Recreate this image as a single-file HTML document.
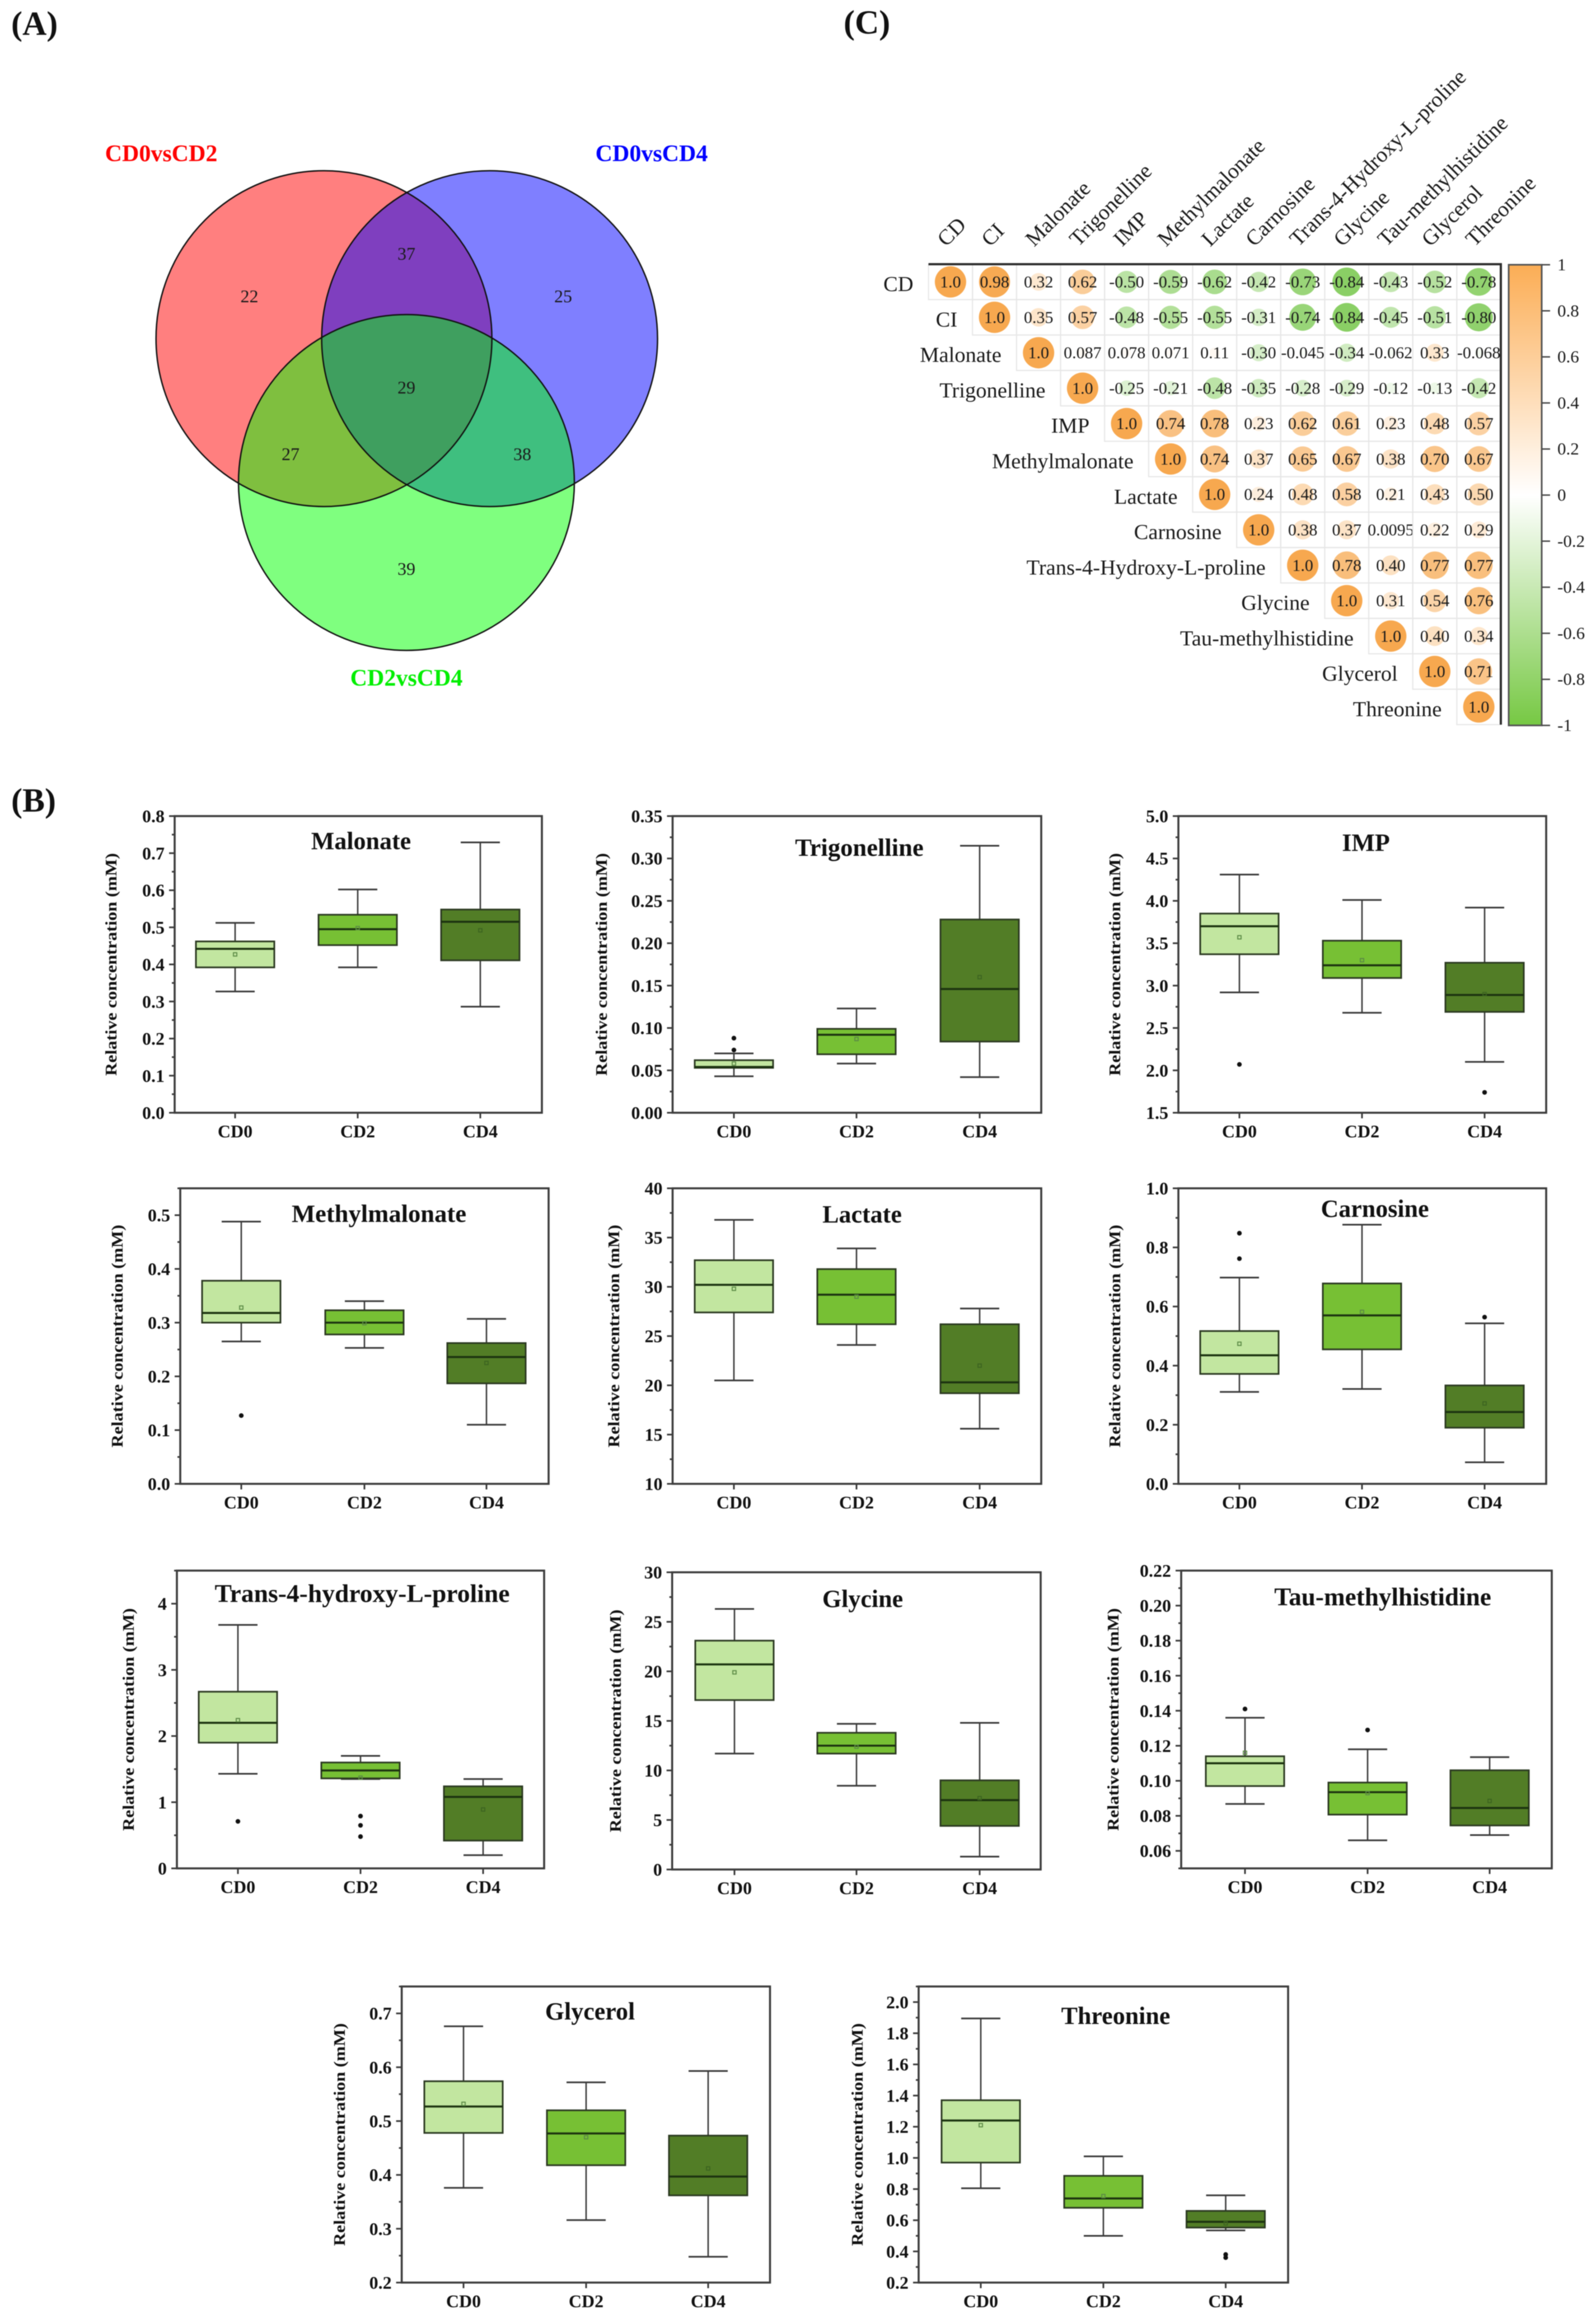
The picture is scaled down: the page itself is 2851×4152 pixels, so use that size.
<!DOCTYPE html>
<html lang="en">
<head>
<meta charset="utf-8">
<title>Metabolite Venn diagram, box plots and correlation matrix</title>
<style>
html,body{margin:0;padding:0;background:#fff;}
#figure{display:block;filter:blur(0.7px);font-family:"Liberation Serif",serif;}
</style>
</head>
<body>
<svg id="figure" xmlns="http://www.w3.org/2000/svg" width="2851" height="4152" viewBox="0 0 2851 4152">
  <rect x="0" y="0" width="2851" height="4152" fill="#fff"/>
  <text x="20" y="62" font-size="60" font-weight="bold" fill="#111">(A)</text>
  <text x="20" y="1450" font-size="60" font-weight="bold" fill="#111">(B)</text>
  <text x="1507" y="60" font-size="60" font-weight="bold" fill="#111">(C)</text>

  <g>
    <circle cx="578.7" cy="605" r="300" fill="#ff0000" fill-opacity="0.5"/>
    <circle cx="874.6" cy="605" r="300" fill="#0000ff" fill-opacity="0.5"/>
    <circle cx="726" cy="862" r="300" fill="#00ff00" fill-opacity="0.5"/>
    <circle cx="578.7" cy="605" r="300" fill="none" stroke="#111" stroke-width="2.5"/>
    <circle cx="874.6" cy="605" r="300" fill="none" stroke="#111" stroke-width="2.5"/>
    <circle cx="726" cy="862" r="300" fill="none" stroke="#111" stroke-width="2.5"/>
    <text x="288" y="288" font-size="42" font-weight="bold" fill="#ff0000" text-anchor="middle">CD0vsCD2</text>
    <text x="1164" y="288" font-size="42" font-weight="bold" fill="#0000ff" text-anchor="middle">CD0vsCD4</text>
    <text x="726" y="1225" font-size="42" font-weight="bold" fill="#00ee00" text-anchor="middle">CD2vsCD4</text>
    <g font-size="32" text-anchor="middle" fill="#1a1a1a">
      <text x="445.5" y="540">22</text>
      <text x="1006" y="540">25</text>
      <text x="726" y="464">37</text>
      <text x="726" y="703">29</text>
      <text x="519" y="822">27</text>
      <text x="933" y="822">38</text>
      <text x="726" y="1027">39</text>
    </g>
  </g>
  <g id="corr-root"></g>
  <g id="box-root"></g>
</svg>

<script>
// ---------- Box plot data (one inner array per metabolite; one value per category) ----------
const categories = ['CD0', 'CD2', 'CD4'];
const metabolites = ['Malonate', 'Trigonelline', 'IMP', 'Methylmalonate', 'Lactate', 'Carnosine', 'Trans-4-hydroxy-L-proline', 'Glycine', 'Tau-methylhistidine', 'Glycerol', 'Threonine'];
const whiskerHigh = [
  [0.512, 0.602, 0.729], [0.070, 0.123, 0.315], [4.31, 4.01, 3.92], [0.488, 0.340, 0.307],
  [36.8, 33.9, 27.8], [0.698, 0.877, 0.543], [3.68, 1.70, 1.35], [26.3, 14.7, 14.8],
  [0.136, 0.118, 0.1135], [0.676, 0.572, 0.593], [1.895, 1.01, 0.76]
];
const quartile3 = [
  [0.462, 0.534, 0.548], [0.062, 0.099, 0.228], [3.85, 3.53, 3.27], [0.378, 0.323, 0.262],
  [32.7, 31.8, 26.2], [0.517, 0.678, 0.333], [2.67, 1.60, 1.24], [23.1, 13.8, 9.0],
  [0.114, 0.099, 0.106], [0.574, 0.520, 0.473], [1.37, 0.885, 0.66]
];
const medians = [
  [0.442, 0.495, 0.515], [0.054, 0.092, 0.146], [3.70, 3.24, 2.89], [0.318, 0.300, 0.236],
  [30.2, 29.2, 20.3], [0.435, 0.570, 0.243], [2.20, 1.48, 1.08], [20.7, 12.5, 7.0],
  [0.110, 0.0935, 0.0845], [0.527, 0.477, 0.397], [1.24, 0.74, 0.59]
];
const quartile1 = [
  [0.392, 0.452, 0.411], [0.053, 0.069, 0.084], [3.37, 3.09, 2.69], [0.300, 0.278, 0.187],
  [27.4, 26.2, 19.2], [0.372, 0.455, 0.190], [1.90, 1.36, 0.42], [17.1, 11.7, 4.4],
  [0.097, 0.0807, 0.0745], [0.478, 0.418, 0.362], [0.97, 0.68, 0.553]
];
const whiskerLow = [
  [0.327, 0.392, 0.286], [0.043, 0.058, 0.042], [2.92, 2.68, 2.10], [0.265, 0.253, 0.110],
  [20.5, 24.1, 15.6], [0.311, 0.321, 0.073], [1.43, 1.35, 0.20], [11.7, 8.45, 1.3],
  [0.0868, 0.066, 0.069], [0.376, 0.316, 0.248], [0.805, 0.50, 0.535]
];
const means = [
  [0.427, 0.498, 0.492], [0.058, 0.087, 0.160], [3.57, 3.30, 2.90], [0.328, 0.299, 0.225],
  [29.8, 29.0, 22.0], [0.474, 0.582, 0.272], [2.24, 1.37, 0.89], [19.9, 12.4, 7.2],
  [0.116, 0.093, 0.0885], [0.532, 0.470, 0.412], [1.21, 0.755, 0.58]
];
const outliers = [
  [[], [], []], [[0.088, 0.074], [], []], [[2.07], [], [1.74]], [[0.127], [], []],
  [[], [], []], [[0.848, 0.762], [], [0.564]], [[0.71], [0.79, 0.65, 0.48], []], [[], [], []],
  [[0.141], [0.129], []], [[], [], []], [[], [], [0.38, 0.36]]
];
const axisMin = [0, 0, 1.5, 0, 10, 0, 0, 0, 0.05, 0.2, 0.2];
const axisMax = [0.8, 0.35, 5.0, 0.55, 40, 1.0, 4.5, 30, 0.22, 0.75, 2.1];
const yTickLabels = [
  ['0.0', '0.1', '0.2', '0.3', '0.4', '0.5', '0.6', '0.7', '0.8'],
  ['0.00', '0.05', '0.10', '0.15', '0.20', '0.25', '0.30', '0.35'],
  ['1.5', '2.0', '2.5', '3.0', '3.5', '4.0', '4.5', '5.0'],
  ['0.0', '0.1', '0.2', '0.3', '0.4', '0.5'],
  ['10', '15', '20', '25', '30', '35', '40'],
  ['0.0', '0.2', '0.4', '0.6', '0.8', '1.0'],
  ['0', '1', '2', '3', '4'],
  ['0', '5', '10', '15', '20', '25', '30'],
  ['0.06', '0.08', '0.10', '0.12', '0.14', '0.16', '0.18', '0.20', '0.22'],
  ['0.2', '0.3', '0.4', '0.5', '0.6', '0.7'],
  ['0.2', '0.4', '0.6', '0.8', '1.0', '1.2', '1.4', '1.6', '1.8', '2.0']
];

// ---------- Correlation data (upper triangle rows, as printed) ----------
const corrVariables = ['CD', 'CI', 'Malonate', 'Trigonelline', 'IMP', 'Methylmalonate', 'Lactate', 'Carnosine', 'Trans-4-Hydroxy-L-proline', 'Glycine', 'Tau-methylhistidine', 'Glycerol', 'Threonine'];
const corrRows = [
  ['1.0', '0.98', '0.32', '0.62', '-0.50', '-0.59', '-0.62', '-0.42', '-0.73', '-0.84', '-0.43', '-0.52', '-0.78'],
  ['1.0', '0.35', '0.57', '-0.48', '-0.55', '-0.55', '-0.31', '-0.74', '-0.84', '-0.45', '-0.51', '-0.80'],
  ['1.0', '0.087', '0.078', '0.071', '0.11', '-0.30', '-0.045', '-0.34', '-0.062', '0.33', '-0.068'],
  ['1.0', '-0.25', '-0.21', '-0.48', '-0.35', '-0.28', '-0.29', '-0.12', '-0.13', '-0.42'],
  ['1.0', '0.74', '0.78', '0.23', '0.62', '0.61', '0.23', '0.48', '0.57'],
  ['1.0', '0.74', '0.37', '0.65', '0.67', '0.38', '0.70', '0.67'],
  ['1.0', '0.24', '0.48', '0.58', '0.21', '0.43', '0.50'],
  ['1.0', '0.38', '0.37', '0.0095', '0.22', '0.29'],
  ['1.0', '0.78', '0.40', '0.77', '0.77'],
  ['1.0', '0.31', '0.54', '0.76'],
  ['1.0', '0.40', '0.34'],
  ['1.0', '0.71'],
  ['1.0']
];
const colorbarTickLabels = ['1', '0.8', '0.6', '0.4', '0.2', '0', '-0.2', '-0.4', '-0.6', '-0.8', '-1'];

// ---------- Layout (separate from data) ----------
const panelLayouts = [
  {l: 312, r: 968, t: 1458, b: 1988, c: [420, 639, 858], ty: 199, tx: 645, tb: 1517, fs: 44},
  {l: 1201.5, r: 1860, t: 1458, b: 1988, c: [1311, 1530, 1750], ty: 1075, tx: 1535, tb: 1529, fs: 44.6},
  {l: 2105, r: 2762, t: 1458, b: 1988, c: [2214, 2433, 2652], ty: 1992, tx: 2440, tb: 1520, fs: 44},
  {l: 322, r: 980, t: 2123, b: 2651, c: [431, 651, 869], ty: 210, tx: 677, tb: 2183, fs: 44.6},
  {l: 1201.5, r: 1860, t: 2123, b: 2651, c: [1311, 1530, 1750], ty: 1097, tx: 1540, tb: 2184, fs: 44},
  {l: 2105, r: 2762, t: 2123, b: 2651, c: [2214, 2433, 2652], ty: 1992, tx: 2456, tb: 2174, fs: 44},
  {l: 316, r: 972, t: 2806, b: 3338, c: [425, 644, 863], ty: 230, tx: 647, tb: 2862, fs: 45.6},
  {l: 1200.7, r: 1859, t: 2809, b: 3340, c: [1312, 1530, 1750], ty: 1100, tx: 1541, tb: 2871, fs: 44},
  {l: 2110, r: 2772, t: 2806, b: 3338, c: [2224, 2443, 2661], ty: 1989, tx: 2470, tb: 2868, fs: 45.2},
  {l: 717.6, r: 1375.5, t: 3549, b: 4078, c: [828, 1047, 1265], ty: 607, tx: 1054, tb: 3608, fs: 44},
  {l: 1641, r: 2301, t: 3549, b: 4078, c: [1752, 1971, 2189.5], ty: 1532, tx: 1993, tb: 3616, fs: 44}
];
const boxFills = ['#c2e6a0', '#77c034', '#527d26'];
const NS = 'http://www.w3.org/2000/svg';

function mk(tag, attrs, parent) {
  const el = document.createElementNS(NS, tag);
  for (const k in attrs) el.setAttribute(k, attrs[k]);
  parent.appendChild(el);
  return el;
}
function slug(s) {
  return s.toLowerCase().replace(/[^a-z0-9]+/g, '-');
}

// ---------- Box plots ----------
function drawBoxPanel(i) {
  const L = panelLayouts[i];
  const name = metabolites[i];
  const key = slug(name);
  const y = v => L.b - (v - axisMin[i]) / (axisMax[i] - axisMin[i]) * (L.b - L.t);
  const g = mk('g', {}, document.getElementById('box-root'));
  
  

  // y ticks
  const labels = yTickLabels[i];
  const step = parseFloat(labels[1]) - parseFloat(labels[0]);
  const first = parseFloat(labels[0]);
  const tickColor = '#3a3a3a';
  for (let n = -4; n < 60; n++) {
    const v = first + n * step / 2;
    if (v < axisMin[i] - 1e-9 || v > axisMax[i] + 1e-9) continue;
    const major = n % 2 === 0 && n >= 0 && n / 2 < labels.length;
    const t = mk('line', {x1: L.l - (major ? 10 : 5), x2: L.l, y1: y(v), y2: y(v), stroke: tickColor, 'stroke-width': 3}, g);
    
    
  }
  labels.forEach(lab => {
    const t = mk('text', {x: L.l - 18, y: y(parseFloat(lab)) + 11, 'font-size': 32, 'font-weight': 'bold', 'text-anchor': 'end', fill: '#111'}, g);
    t.textContent = lab;
    
    
  });

  // y title
  const cy = (L.t + L.b) / 2;
  const yt = mk('text', {x: L.ty, y: cy, 'font-size': 28, 'font-weight': 'bold', 'text-anchor': 'middle', fill: '#111', textLength: 398, lengthAdjust: 'spacingAndGlyphs', transform: 'rotate(-90 ' + (L.ty + 9) + ' ' + cy + ') translate(9 0)'}, g);
  yt.textContent = 'Relative concentration (mM)';
  
  

  // categories
  categories.forEach((cat, c) => {
    const x = L.c[c];
    const ck = key + '-' + cat.toLowerCase();

    const tick = mk('line', {x1: x, x2: x, y1: L.b, y2: L.b + 10, stroke: tickColor, 'stroke-width': 3}, g);
    
    

    const lab = mk('text', {x: x, y: L.b + 44, 'font-size': 32, 'font-weight': 'bold', 'text-anchor': 'middle', fill: '#111'}, g);
    lab.textContent = cat;
    
    

    const stem = mk('line', {x1: x, x2: x, y1: y(whiskerHigh[i][c]), y2: y(whiskerLow[i][c]), stroke: '#3a3a3a', 'stroke-width': 2.6}, g);
    
    

    const capHi = mk('line', {x1: x - 35, x2: x + 35, y1: y(whiskerHigh[i][c]), y2: y(whiskerHigh[i][c]), stroke: '#3a3a3a', 'stroke-width': 3}, g);
    
    

    const capLo = mk('line', {x1: x - 35, x2: x + 35, y1: y(whiskerLow[i][c]), y2: y(whiskerLow[i][c]), stroke: '#3a3a3a', 'stroke-width': 3}, g);
    
    

    const box = mk('rect', {x: x - 70, y: y(quartile3[i][c]), width: 140, height: y(quartile1[i][c]) - y(quartile3[i][c]), fill: boxFills[c], stroke: '#2c3a22', 'stroke-width': 3}, g);
    
    

    const med = mk('line', {x1: x - 70, x2: x + 70, y1: y(medians[i][c]), y2: y(medians[i][c]), stroke: '#1c3310', 'stroke-width': 3.6}, g);
    
    

    const meanMark = mk('rect', {x: x - 3, y: y(means[i][c]) - 3, width: 6, height: 6, fill: 'none', stroke: c === 2 ? '#3c6420' : '#5b8a45', 'stroke-width': 1.8}, g);
    
    

    outliers[i][c].forEach(v => {
      const p = y(v);
      const o = mk('circle', {cx: x, cy: p, r: 4.2, fill: '#111'}, g);
      
      
    });
  });

  // frame
  const frame = mk('rect', {x: L.l, y: L.t, width: L.r - L.l, height: L.b - L.t, fill: 'none', stroke: '#3c3c3c', 'stroke-width': 3.6}, g);
  
  

  // title
  const title = mk('text', {x: L.tx, y: L.tb, 'font-size': L.fs, 'font-weight': 'bold', 'text-anchor': 'middle', fill: '#111'}, g);
  title.textContent = name;
  
  
}
metabolites.forEach((m, i) => drawBoxPanel(i));

// ---------- Correlation matrix ----------
(function drawCorrelation() {
  const root = document.getElementById('corr-root');
  const left = 1658.6, right = 2681, top = 472, bottom = 1294.6;
  const n = corrVariables.length;
  const cw = (right - left) / n, ch = (bottom - top) / n;
  const X = c => left + c * cw;
  const Y = r => top + r * ch;
  const maxR = 28;
  const lerp = (a, b, t) => Math.round(a + (b - a) * t);
  function color(v) {
    const t = v >= 0 ? Math.pow(v, 1.15) : -v;
    const end = v >= 0 ? [247, 168, 79] : [116, 198, 72];
    return 'rgb(' + lerp(255, end[0], t) + ',' + lerp(255, end[1], t) + ',' + lerp(255, end[2], t) + ')';
  }

  corrRows.forEach((row, r) => {
    row.forEach((str, k) => {
      const c = r + k;
      const v = parseFloat(str);
      const cellName = slug(corrVariables[r]) + '-' + slug(corrVariables[c]);

      const cell = mk('rect', {x: X(c), y: Y(r), width: cw, height: ch, fill: 'none', stroke: '#e6e6e6', 'stroke-width': 2}, root);
      
      

      const dot = mk('circle', {cx: X(c) + cw / 2, cy: Y(r) + ch / 2, r: maxR * Math.sqrt(Math.abs(v)), fill: color(v)}, root);
      
      

      const fs = 30;
      const t = mk('text', {x: X(c) + cw / 2, y: Y(r) + ch / 2 + fs * 0.33, 'font-size': fs, 'text-anchor': 'middle', fill: '#1a1a1a'}, root);
      t.textContent = str;
      
      
    });
  });

  corrVariables.forEach((name, i) => {
    const rowLab = mk('text', {x: X(i) - 27, y: Y(i) + ch / 2 + 4.5 + 12, 'font-size': 38.6, 'text-anchor': 'end', fill: '#1a1a1a'}, root);
    rowLab.textContent = name;
    
    

    const ax = X(i) + cw / 2 - 8, ay = 442;
    const colLab = mk('text', {x: ax, y: ay, 'font-size': 38.6, fill: '#1a1a1a', transform: 'rotate(-45 ' + ax + ' ' + ay + ')'}, root);
    colLab.textContent = name;
    
    
  });

  const edge = mk('polyline', {points: left + ',' + top + ' ' + right + ',' + top + ' ' + right + ',' + bottom, fill: 'none', stroke: '#2e2e2e', 'stroke-width': 4}, root);
  
  

  // colour bar
  const barL = 2695, barR = 2754, barT = 473, barB = 1296;
  const defs = mk('defs', {}, root);
  const grad = mk('linearGradient', {id: 'corr-gradient', x1: 0, y1: 0, x2: 0, y2: 1}, defs);
  mk('stop', {offset: '0%', 'stop-color': '#fbad55'}, grad);
  mk('stop', {offset: '50%', 'stop-color': '#ffffff'}, grad);
  mk('stop', {offset: '100%', 'stop-color': '#76c843'}, grad);
  const bar = mk('rect', {x: barL, y: barT, width: barR - barL, height: barB - barT, fill: 'url(#corr-gradient)', stroke: '#555', 'stroke-width': 3}, root);
  
  
  colorbarTickLabels.forEach(lab => {
    const v = parseFloat(lab);
    const y = barT + (1 - v) / 2 * (barB - barT);
    const tick = mk('line', {x1: barR, x2: barR + 15, y1: y, y2: y, stroke: '#444', 'stroke-width': 2.5}, root);
    
    
    const t = mk('text', {x: 2782, y: y + 10, 'font-size': 31, fill: '#1a1a1a'}, root);
    t.textContent = lab;
    
    
  });
})();
</script>
</body>
</html>
